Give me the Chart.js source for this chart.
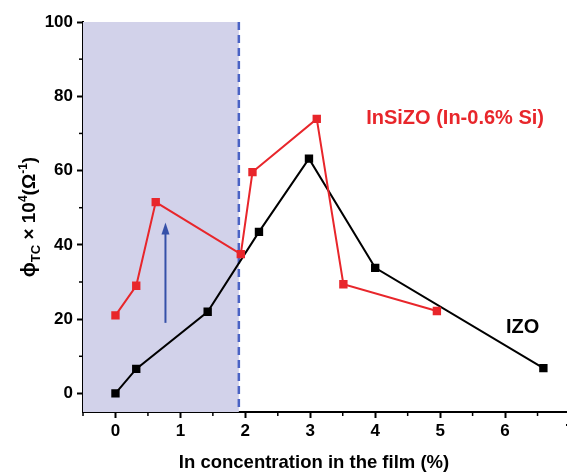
<!DOCTYPE html>
<html>
<head>
<meta charset="utf-8">
<script src="https://cdn.jsdelivr.net/npm/chart.js@4/dist/chart.umd.min.js"></script>
<style>
  html, body { margin: 0; padding: 0; background: #fff; overflow: hidden; }
  #wrap { width: 580px; height: 475px; }
</style>
</head>
<body>
<div id="wrap"><canvas id="phiChart" width="580" height="475"></canvas></div>
<script>
// IZO (black) and InSiZO (red) series, x = In concentration (%)
const izoX = [0, 0.32, 1.42, 2.21, 2.98, 4.0, 6.59];
const izoY = [0, 6.6, 22, 43.5, 63.2, 33.8, 6.8];
const insizoX = [0, 0.32, 0.62, 1.93, 2.11, 3.1, 3.51, 4.95];
const insizoY = [21, 29, 51.5, 37.5, 59.6, 73.9, 29.4, 22.2];

const xTicks = [0, 1, 2, 3, 4, 5, 6, 7];
const yTicks = [0, 20, 40, 60, 80, 100];
const xMinor = [-0.5, 0.5, 1.5, 2.5, 3.5, 4.5, 5.5, 6.5];
const yMinor = [10, 30, 50, 70, 90];

// shaded region / dashed boundary / arrow (data units)
const shadeX = [-0.5, 1.9];
const arrowX = 0.77;
const arrowY = [19, 46];

const FONT = '"Liberation Sans", Arial, sans-serif';
const toPts = (xs, ys) => xs.map((x, i) => ({ x: x, y: ys[i] }));

const decor = {
  id: 'decor',
  beforeDatasetsDraw(chart) {
    const { ctx, scales: { x, y } } = chart;
    ctx.save();
    // shaded area
    ctx.fillStyle = 'rgb(210,210,234)';
    const x0 = x.getPixelForValue(shadeX[0]), x1 = x.getPixelForValue(shadeX[1]);
    ctx.fillRect(x0, y.getPixelForValue(100), x1 - x0, y.getPixelForValue(-5) - y.getPixelForValue(100));
    // dashed boundary
    ctx.strokeStyle = '#4a63c4';
    ctx.lineWidth = 2.5;
    ctx.setLineDash([8, 5]);
    ctx.beginPath();
    ctx.moveTo(x1, y.getPixelForValue(100));
    ctx.lineTo(x1, y.getPixelForValue(-5));
    ctx.stroke();
    ctx.setLineDash([]);
    // arrow
    const ax = x.getPixelForValue(arrowX);
    const ay0 = y.getPixelForValue(arrowY[0]), ay1 = y.getPixelForValue(arrowY[1]);
    ctx.strokeStyle = '#3550a8';
    ctx.fillStyle = '#3550a8';
    ctx.lineWidth = 2;
    ctx.beginPath();
    ctx.moveTo(ax, ay0);
    ctx.lineTo(ax, ay1 + 8);
    ctx.stroke();
    ctx.beginPath();
    ctx.moveTo(ax, ay1);
    ctx.lineTo(ax - 4, ay1 + 12);
    ctx.lineTo(ax + 4, ay1 + 12);
    ctx.closePath();
    ctx.fill();
    ctx.restore();
  },
  afterDraw(chart) {
    const { ctx, scales: { x, y } } = chart;
    ctx.save();
    // minor ticks
    ctx.strokeStyle = '#000';
    ctx.lineWidth = 1.5;
    const bottom = chart.chartArea.bottom, left = chart.chartArea.left;
    xMinor.forEach(v => {
      const px = x.getPixelForValue(v);
      ctx.beginPath(); ctx.moveTo(px, bottom); ctx.lineTo(px, bottom + 4); ctx.stroke();
    });
    yMinor.forEach(v => {
      const py = y.getPixelForValue(v);
      ctx.beginPath(); ctx.moveTo(left, py); ctx.lineTo(left - 4, py); ctx.stroke();
    });
    // series labels
    ctx.textAlign = 'center';
    ctx.textBaseline = 'middle';
    ctx.font = 'bold 20px ' + FONT;
    ctx.fillStyle = '#e8262b';
    ctx.fillText('InSiZO (In-0.6% Si)', x.getPixelForValue(5.23), y.getPixelForValue(74.1));
    ctx.fillStyle = '#000';
    ctx.fillText('IZO', x.getPixelForValue(6.27), y.getPixelForValue(17.8));
    // x axis title
    ctx.font = 'bold 18.5px ' + FONT;
    ctx.fillText('In concentration in the film (%)', 314, 463);
    // y axis title with sub/superscripts
    const parts = [
      ['\u03d5', 20, 0], ['TC', 13, 5], [' \u00d7 10', 19, 0], ['4', 12, -8],
      ['(\u03a9', 19, 0], ['-1', 12, -8], [')', 19, 0]
    ];
    let total = 0;
    parts.forEach(p => {
      ctx.font = 'bold ' + p[1] + 'px ' + FONT;
      total += ctx.measureText(p[0]).width;
    });
    ctx.translate(28, 217);
    ctx.rotate(-Math.PI / 2);
    ctx.textAlign = 'left';
    ctx.textBaseline = 'alphabetic';
    let cx = -total / 2;
    parts.forEach(p => {
      ctx.font = 'bold ' + p[1] + 'px ' + FONT;
      ctx.fillText(p[0], cx, 7 + p[2]);
      cx += ctx.measureText(p[0]).width;
    });
    ctx.restore();
  }
};

const ctx = document.getElementById('phiChart').getContext('2d');
const phiChart = new Chart(ctx, {
  type: 'line',
  data: {
    datasets: [{
      label: 'InSiZO (In-0.6% Si)',
      data: toPts(insizoX, insizoY),
      borderColor: '#e8262b',
      backgroundColor: '#e8262b',
      borderWidth: 2,
      pointStyle: 'rect',
      pointRadius: 4.5,
      fill: false,
      tension: 0
    }, {
      label: 'IZO',
      data: toPts(izoX, izoY),
      borderColor: '#000',
      backgroundColor: '#000',
      borderWidth: 2,
      pointStyle: 'rect',
      pointRadius: 4.5,
      fill: false,
      tension: 0
    }]
  },
  options: {
    responsive: false,
    animation: false,
    layout: { padding: { top: 22, right: 10, left: 0, bottom: 0 } },
    plugins: { legend: { display: false }, tooltip: { enabled: false } },
    scales: {
      x: {
        type: 'linear',
        min: -0.5,
        max: 7,
        afterBuildTicks: s => { s.ticks = xTicks.map(v => ({ value: v })); },
        afterFit: s => { s.height = 63; },
        grid: { drawOnChartArea: false, tickLength: 6, tickColor: '#000', tickWidth: 2 },
        border: { color: '#000', width: 2 },
        ticks: {
          color: '#000', padding: 3,
          font: { family: FONT, size: 17, weight: 'bold' }
        }
      },
      y: {
        min: -5,
        max: 100,
        afterBuildTicks: s => { s.ticks = yTicks.map(v => ({ value: v })); },
        afterFit: s => { s.width = 83; },
        grid: { drawOnChartArea: false, tickLength: 6, tickColor: '#000', tickWidth: 2 },
        border: { color: '#000', width: 2 },
        ticks: {
          color: '#000', padding: 4,
          font: { family: FONT, size: 17, weight: 'bold' }
        }
      }
    }
  },
  plugins: [decor]
});
</script>
</body>
</html>
